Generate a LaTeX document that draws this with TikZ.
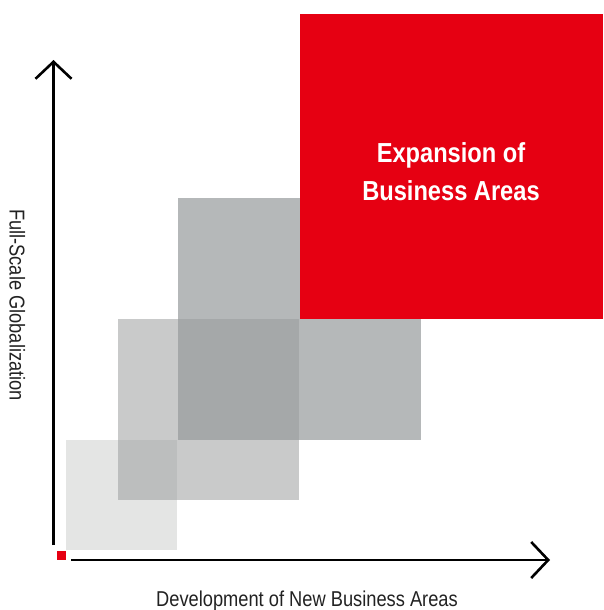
\documentclass[tikz,border=0pt]{standalone}
\usepackage{fontspec}
\usetikzlibrary{arrows.meta}
\newfontfamily\titlefont[FakeStretch=0.86]{Liberation Sans}
\newfontfamily\labelfont[FakeStretch=0.85]{Liberation Sans}
\definecolor{redbox}{HTML}{E60012}
\definecolor{gA}{HTML}{E4E5E4}
\definecolor{gB}{HTML}{C9CACA}
\definecolor{gC}{HTML}{B5B8B9}
\definecolor{gAB}{HTML}{BCBEBE}
\definecolor{gBC}{HTML}{A5A8A9}
\definecolor{axistext}{HTML}{222222}
\tikzset{
  axisline/.style={line width=2.6pt, draw=black, -{Straight Barb[length=17pt,width=36pt,line width=2.6pt]}},
  axislabel/.style={font=\labelfont\fontsize{21.5}{24}\selectfont, text=axistext, inner sep=0pt},
  titletext/.style={font=\titlefont\bfseries\fontsize{27.5}{30}\selectfont, text=white, inner sep=0pt, anchor=base}
}
\begin{document}
\begin{tikzpicture}[x=1pt,y=-1pt]
\useasboundingbox (0,0) rectangle (603,610);
% boxes
\fill[gA] (66,440) rectangle (177,550);
\fill[gB] (118,319) rectangle (299,500);
\fill[gC] (178,198) rectangle (421,440);
\fill[gAB] (118,440) rectangle (177,500);
\fill[gBC] (178,319) rectangle (299,440);
\fill[redbox] (300,14) rectangle (603,319);
% origin marker
\fill[redbox] (57,551) rectangle (66,560);
% axes
\coordinate (ybot) at (53.5,545);
\coordinate (ytop) at (53.5,60);
\coordinate (xleft) at (71,560);
\coordinate (xright) at (550,560);
\draw[axisline] (ybot) -- (ytop);
\draw[axisline] (xleft) -- (xright);
% texts
\node[titletext] (title1) at (451,162) {Expansion of};
\node[titletext] (title2) at (451,200) {Business Areas};
\node[axislabel, anchor=base] (xlabel) at (307,606) {Development of New Business Areas};
\node[axislabel, rotate=-90, anchor=base] (ylabel) at (9.5,305) {Full-Scale Globalization};
\end{tikzpicture}
\end{document}
